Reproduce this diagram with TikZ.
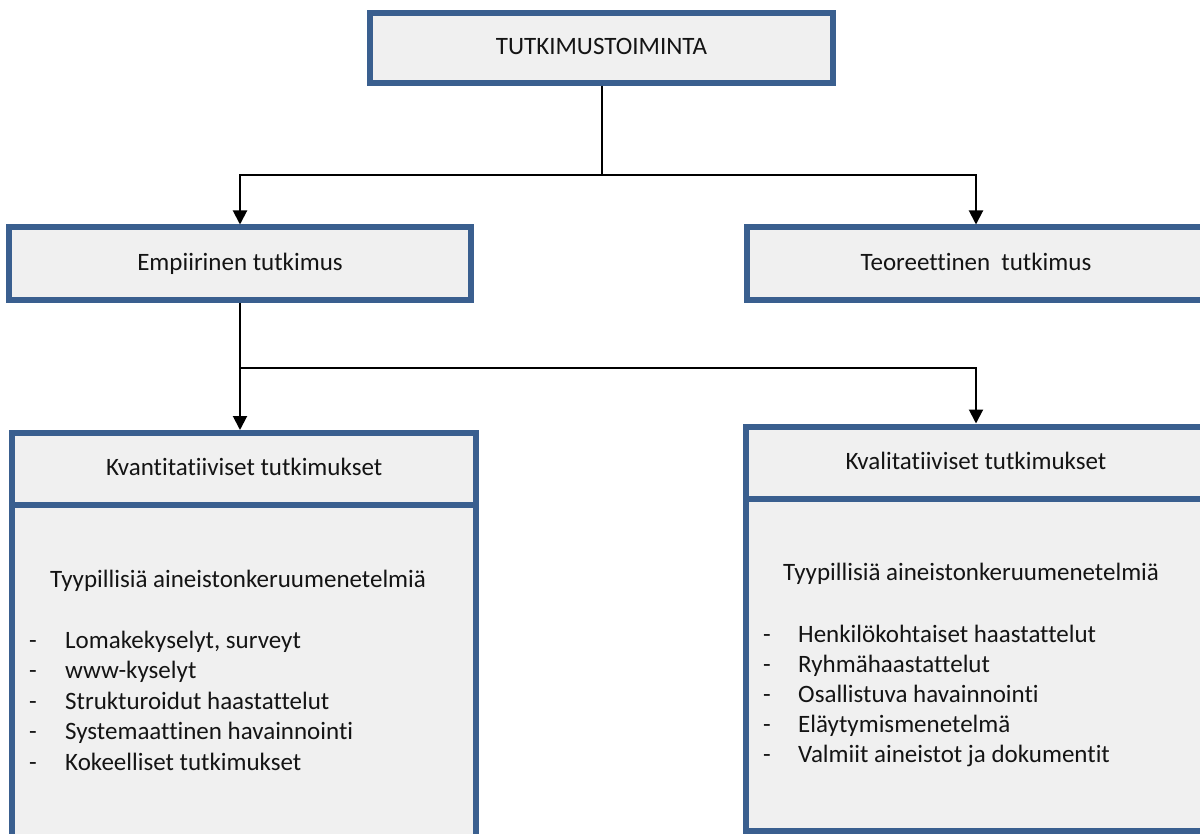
\documentclass[tikz,border=0pt]{standalone}
\usepackage{fontspec}
\setmainfont{Carlito}[Ligatures=NoCommon]
\usetikzlibrary{arrows.meta}

\definecolor{boxblue}{RGB}{58,95,143}
\definecolor{boxfill}{RGB}{240,240,240}
\definecolor{ink}{RGB}{20,20,20}

\tikzset{
  box/.style={draw=boxblue, line width=6pt, fill=boxfill, rectangle,
    inner sep=0pt, text=ink, text height=18pt, text depth=5pt,
    font=\fontsize{25}{30}\selectfont},
  link/.style={draw=black, line width=2pt},
  arr/.style={link, -{Triangle[width=14pt,length=14pt]}},
  item/.style={anchor=base west, inner sep=0pt, text=ink,
    font=\fontsize{25}{30}\selectfont},
}

\begin{document}
\begin{tikzpicture}[x=1pt, y=-1pt]
  \clip (0,0) rectangle (1200,834);
  \fill[white] (0,0) rectangle (1200,834);

  % main boxes
  \node[box, minimum width=463pt, minimum height=70pt] (top) at (601.5,48) {TUTKIMUSTOIMINTA};
  \node[box, minimum width=462pt, minimum height=72.5pt] (emp) at (240,263.75) {Empiirinen tutkimus};
  \node[box, minimum width=458pt, minimum height=72.5pt] (teo) at (976,263.75) {Teoreettinen\ \ tutkimus};

  % quantitative column: body first, header on top
  \node[box, minimum width=463.7pt, minimum height=400pt] (kvantbody) at (244.15,705) {};
  \node[box, minimum width=463.7pt, minimum height=72pt] (kvant) at (244.15,469) {Kvantitatiiviset tutkimukset};

  % qualitative column: body first, header on top
  \node[box, minimum width=461pt, minimum height=331.5pt] (kvalbody) at (976,664.75) {};
  \node[box, minimum width=461pt, minimum height=72.5pt] (kval) at (976,462.75) {Kvalitatiiviset tutkimukset};

  % connectors
  \coordinate (j1) at (601.5,175);
  \coordinate (j2) at (240,368);
  \draw[link] (top.south) -- (j1);
  \draw[arr] (j1) -| (emp.north);
  \draw[arr] (j1) -| (teo.north);
  \draw[arr] (emp.south) -- (emp.south |- kvant.north);
  \draw[arr] (j2) -| (kval.north);

  % quantitative methods
  \node[item] (qhead) at (50,587) {Tyypillisiä aineistonkeruumenetelmiä};
  \foreach \t [count=\i] in {{Lomakekyselyt, surveyt}, www-kyselyt, Strukturoidut haastattelut,
      Systemaattinen havainnointi, Kokeelliset tutkimukset} {
    \node[item] (qd\i) at (29,648+30.6*\i-30.6) {-};
    \node[item] (q\i) at (65,648+30.6*\i-30.6) {\t};
  }

  % qualitative methods
  \node[item] (lhead) at (783,580) {Tyypillisiä aineistonkeruumenetelmiä};
  \foreach \t [count=\i] in {Henkilökohtaiset haastattelut, Ryhmähaastattelut,
      Osallistuva havainnointi, Eläytymismenetelmä, Valmiit aineistot ja dokumentit} {
    \node[item] (ld\i) at (763,642+30*\i-30) {-};
    \node[item] (l\i) at (798,642+30*\i-30) {\t};
  }
\end{tikzpicture}
\end{document}
